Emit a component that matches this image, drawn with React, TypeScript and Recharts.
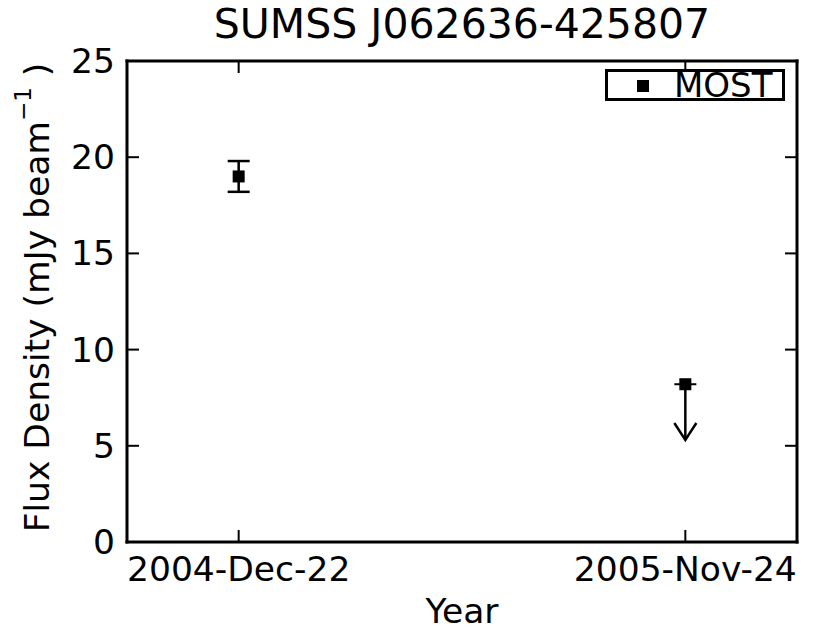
import {
  ErrorBar,
  Scatter,
  ScatterChart,
  XAxis,
  YAxis,
} from "recharts";

// observation epochs (x index -> label)
const epochIndex = [0, 1];
const epochLabels = ["2004-Dec-22", "2005-Nov-24"];
const yTicks = [0, 5, 10, 15, 20, 25];

// MOST detection with 1-sigma error
const detectionFlux = [19.0];
const detectionErr = [0.8];

// MOST upper limit, arrow drawn down to arrowTip
const limitFlux = [8.2];
const arrowTip = [5.3];

const detections = detectionFlux.map((flux, i) => ({
  x: epochIndex[0],
  flux,
  err: detectionErr[i],
}));

const limits = limitFlux.map((flux, i) => ({
  x: epochIndex[1],
  flux,
  shaft: [flux - arrowTip[i], 0],
}));

const tips = arrowTip.map((flux) => ({ x: epochIndex[1], flux }));

const FONT = "'DejaVu Sans', sans-serif";
const TICK_LEN = 12;
const TICK_FONT = 34.5;

function SquareMarker({ cx, cy }: any) {
  return <rect x={cx - 6} y={cy - 6} width={12} height={12} fill="#000" />;
}

// upper-limit marker: square with the horizontal cap through it
function LimitMarker({ cx, cy }: any) {
  return (
    <g>
      <line x1={cx - 11} y1={cy} x2={cx + 11} y2={cy} stroke="#000" strokeWidth={2} />
      <rect x={cx - 6} y={cy - 6} width={12} height={12} fill="#000" />
    </g>
  );
}

function ArrowHead({ cx, cy }: any) {
  return (
    <path
      d={`M${cx - 11},${cy - 17} L${cx},${cy} L${cx + 11},${cy - 17}`}
      fill="none"
      stroke="#000"
      strokeWidth={2.5}
    />
  );
}

function BottomTick({ x, y, payload }: any) {
  return (
    <g>
      <line x1={x} y1={y} x2={x} y2={y - TICK_LEN} stroke="#000" strokeWidth={2} />
      <text
        x={x}
        y={y + 39}
        textAnchor="middle"
        fontSize={TICK_FONT}
        fontFamily={FONT}
        fill="#000"
      >
        {epochLabels[payload.value] ?? ""}
      </text>
    </g>
  );
}

function TopTick({ x, y }: any) {
  return <line x1={x} y1={y} x2={x} y2={y + TICK_LEN} stroke="#000" strokeWidth={2} />;
}

function LeftTick({ x, y, payload }: any) {
  return (
    <g>
      <line x1={x} y1={y} x2={x + TICK_LEN} y2={y} stroke="#000" strokeWidth={2} />
      <text
        x={x - 12}
        y={y + 12}
        textAnchor="end"
        fontSize={TICK_FONT}
        fontFamily={FONT}
        fill="#000"
      >
        {payload.value}
      </text>
    </g>
  );
}

function RightTick({ x, y }: any) {
  return <line x1={x} y1={y} x2={x - TICK_LEN} y2={y} stroke="#000" strokeWidth={2} />;
}

function YLabel({ viewBox }: any) {
  const cx = 37;
  const cy = viewBox.y + viewBox.height / 2 - 4;
  return (
    <text
      transform={`translate(${cx},${cy}) rotate(-90)`}
      textAnchor="middle"
      dominantBaseline="central"
      fontSize={TICK_FONT}
      fontFamily={FONT}
      fill="#000"
    >
      <tspan>Flux Density (mJy beam</tspan>
      <tspan fontSize={23} dy={-14}>−1</tspan>
      <tspan dy={14}> )</tspan>
    </text>
  );
}

const axisLine = { stroke: "#000", strokeWidth: 3, strokeLinecap: "square" as const };

export default function App() {
  return (
    <div
      style={{
        position: "absolute",
        left: 0,
        top: 0,
        width: 830,
        height: 631,
        background: "#fff",
        fontFamily: FONT,
      }}
    >
      <div
        style={{
          position: "absolute",
          left: 127,
          width: 670,
          top: 0,
          textAlign: "center",
          fontSize: 41,
          lineHeight: "48px",
          color: "#000",
        }}
      >
        SUMSS J062636-425807
      </div>

      <div
        style={{
          position: "absolute",
          left: 127,
          width: 670,
          top: 591,
          textAlign: "center",
          fontSize: TICK_FONT,
          lineHeight: "40px",
          color: "#000",
        }}
      >
        Year
      </div>

      <div
        style={{
          position: "absolute",
          left: 605,
          top: 69,
          width: 174,
          height: 26,
          border: "3px solid #000",
          background: "#fff",
          zIndex: 2,
        }}
      >
        <div
          style={{
            position: "absolute",
            left: 29,
            top: 8,
            width: 12,
            height: 12,
            background: "#000",
          }}
        />
        <div
          style={{
            position: "absolute",
            left: 66,
            top: -6,
            fontSize: 34,
            lineHeight: "38px",
            color: "#000",
          }}
        >
          MOST
        </div>
      </div>

      <div style={{ position: "absolute", left: 0, top: 0 }}>
        <ScatterChart
          width={830}
          height={631}
          margin={{ top: 41, right: 13, bottom: 59, left: 67 }}
        >
          <XAxis
            xAxisId="bottom"
            dataKey="x"
            type="number"
            orientation="bottom"
            domain={[-0.25, 1.25]}
            ticks={epochIndex}
            height={30}
            tickSize={0}
            tickMargin={0}
            tickLine={false}
            axisLine={axisLine}
            tick={<BottomTick />}
            allowDataOverflow
          />
          <XAxis
            xAxisId="top"
            dataKey="x"
            type="number"
            orientation="top"
            domain={[-0.25, 1.25]}
            ticks={epochIndex}
            height={20}
            tickSize={0}
            tickMargin={0}
            tickLine={false}
            axisLine={axisLine}
            tick={<TopTick />}
            allowDataOverflow
          />
          <YAxis
            yAxisId="left"
            dataKey="flux"
            type="number"
            orientation="left"
            domain={[0, 25]}
            ticks={yTicks}
            width={60}
            tickSize={0}
            tickMargin={0}
            tickLine={false}
            axisLine={axisLine}
            tick={<LeftTick />}
            label={{ content: <YLabel /> }}
            allowDataOverflow
          />
          <YAxis
            yAxisId="right"
            dataKey="flux"
            type="number"
            orientation="right"
            domain={[0, 25]}
            ticks={yTicks}
            width={20}
            tickSize={0}
            tickMargin={0}
            tickLine={false}
            axisLine={axisLine}
            tick={<RightTick />}
            allowDataOverflow
          />

          <Scatter
            name="MOST"
            data={detections}
            xAxisId="bottom"
            yAxisId="left"
            shape={<SquareMarker />}
            isAnimationActive={false}
          >
            <ErrorBar
              dataKey="err"
              direction="y"
              width={11}
              stroke="#000"
              strokeWidth={2.5}
              isAnimationActive={false}
            />
          </Scatter>

          <Scatter
            name="MOST limit"
            data={limits}
            xAxisId="bottom"
            yAxisId="left"
            shape={<LimitMarker />}
            isAnimationActive={false}
          >
            <ErrorBar
              dataKey="shaft"
              direction="y"
              width={0}
              stroke="#000"
              strokeWidth={2.5}
              isAnimationActive={false}
            />
          </Scatter>

          <Scatter
            name="limit arrow"
            data={tips}
            xAxisId="bottom"
            yAxisId="left"
            shape={<ArrowHead />}
            isAnimationActive={false}
          />
        </ScatterChart>
      </div>
    </div>
  );
}
